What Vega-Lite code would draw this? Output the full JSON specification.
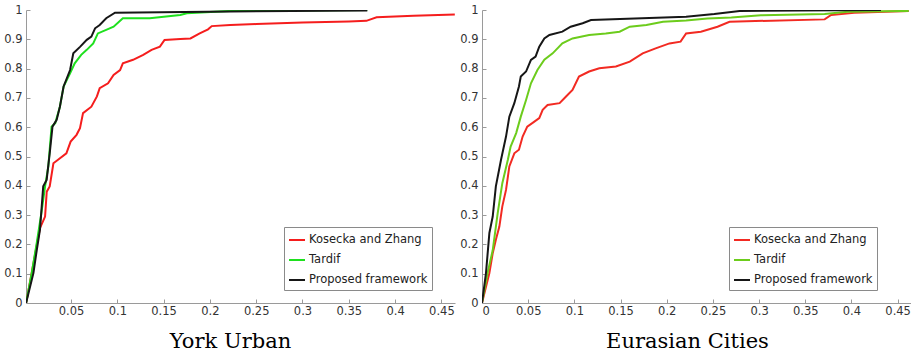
{
  "$schema": "https://vega.github.io/schema/vega-lite/v6.json",
  "padding": {"left": 3, "top": 4, "right": 0, "bottom": 0},
  "background": "white",
  "spacing": 4,
  "config": {
    "view": {"stroke": null},
    "axis": {
      "domainColor": "#9a9a9a",
      "tickColor": "#9a9a9a",
      "tickSize": -4,
      "labelColor": "#333333",
      "labelFont": "DejaVu Sans",
      "labelFontSize": 11.5,
      "grid": false,
      "titleFont": "DejaVu Serif",
      "titleFontSize": 21,
      "titleFontWeight": "normal",
      "titleColor": "#000000"
    },
    "legend": {
      "orient": "none",
      "title": null,
      "strokeColor": "#8a8a8a",
      "fillColor": "white",
      "padding": 4,
      "symbolType": "stroke",
      "symbolSize": 256,
      "symbolStrokeWidth": 2,
      "labelFont": "DejaVu Sans",
      "labelFontSize": 11.5,
      "labelColor": "#222222",
      "labelOffset": 3,
      "rowPadding": 5
    },
    "line": {"strokeWidth": 2}
  },
  "data": {
    "values": [
      {"p": "YU", "m": "Kosecka and Zhang", "x": 0.0015, "y": 0},
      {"p": "YU", "m": "Kosecka and Zhang", "x": 0.0165, "y": 0.256},
      {"p": "YU", "m": "Kosecka and Zhang", "x": 0.022, "y": 0.295},
      {"p": "YU", "m": "Kosecka and Zhang", "x": 0.0238, "y": 0.38},
      {"p": "YU", "m": "Kosecka and Zhang", "x": 0.027, "y": 0.398},
      {"p": "YU", "m": "Kosecka and Zhang", "x": 0.031, "y": 0.477},
      {"p": "YU", "m": "Kosecka and Zhang", "x": 0.036, "y": 0.489},
      {"p": "YU", "m": "Kosecka and Zhang", "x": 0.045, "y": 0.511},
      {"p": "YU", "m": "Kosecka and Zhang", "x": 0.0496, "y": 0.551},
      {"p": "YU", "m": "Kosecka and Zhang", "x": 0.056, "y": 0.574},
      {"p": "YU", "m": "Kosecka and Zhang", "x": 0.0597, "y": 0.597},
      {"p": "YU", "m": "Kosecka and Zhang", "x": 0.063, "y": 0.648},
      {"p": "YU", "m": "Kosecka and Zhang", "x": 0.072, "y": 0.67},
      {"p": "YU", "m": "Kosecka and Zhang", "x": 0.078, "y": 0.705},
      {"p": "YU", "m": "Kosecka and Zhang", "x": 0.081, "y": 0.733},
      {"p": "YU", "m": "Kosecka and Zhang", "x": 0.09, "y": 0.75},
      {"p": "YU", "m": "Kosecka and Zhang", "x": 0.096, "y": 0.778},
      {"p": "YU", "m": "Kosecka and Zhang", "x": 0.103, "y": 0.795},
      {"p": "YU", "m": "Kosecka and Zhang", "x": 0.106, "y": 0.818},
      {"p": "YU", "m": "Kosecka and Zhang", "x": 0.117, "y": 0.83},
      {"p": "YU", "m": "Kosecka and Zhang", "x": 0.128, "y": 0.847},
      {"p": "YU", "m": "Kosecka and Zhang", "x": 0.137, "y": 0.864},
      {"p": "YU", "m": "Kosecka and Zhang", "x": 0.146, "y": 0.875},
      {"p": "YU", "m": "Kosecka and Zhang", "x": 0.151, "y": 0.898},
      {"p": "YU", "m": "Kosecka and Zhang", "x": 0.168, "y": 0.901},
      {"p": "YU", "m": "Kosecka and Zhang", "x": 0.179, "y": 0.903},
      {"p": "YU", "m": "Kosecka and Zhang", "x": 0.189, "y": 0.92},
      {"p": "YU", "m": "Kosecka and Zhang", "x": 0.198, "y": 0.934},
      {"p": "YU", "m": "Kosecka and Zhang", "x": 0.202, "y": 0.945},
      {"p": "YU", "m": "Kosecka and Zhang", "x": 0.222, "y": 0.949},
      {"p": "YU", "m": "Kosecka and Zhang", "x": 0.25, "y": 0.952},
      {"p": "YU", "m": "Kosecka and Zhang", "x": 0.3, "y": 0.957},
      {"p": "YU", "m": "Kosecka and Zhang", "x": 0.35, "y": 0.961},
      {"p": "YU", "m": "Kosecka and Zhang", "x": 0.369, "y": 0.963},
      {"p": "YU", "m": "Kosecka and Zhang", "x": 0.38, "y": 0.975},
      {"p": "YU", "m": "Kosecka and Zhang", "x": 0.42, "y": 0.98},
      {"p": "YU", "m": "Kosecka and Zhang", "x": 0.4645, "y": 0.985},
      {"p": "YU", "m": "Tardif", "x": 0.0015, "y": 0},
      {"p": "YU", "m": "Tardif", "x": 0.0076, "y": 0.102},
      {"p": "YU", "m": "Tardif", "x": 0.013, "y": 0.205},
      {"p": "YU", "m": "Tardif", "x": 0.018, "y": 0.307},
      {"p": "YU", "m": "Tardif", "x": 0.022, "y": 0.398},
      {"p": "YU", "m": "Tardif", "x": 0.0255, "y": 0.466},
      {"p": "YU", "m": "Tardif", "x": 0.029, "y": 0.602},
      {"p": "YU", "m": "Tardif", "x": 0.033, "y": 0.614},
      {"p": "YU", "m": "Tardif", "x": 0.038, "y": 0.67},
      {"p": "YU", "m": "Tardif", "x": 0.042, "y": 0.739},
      {"p": "YU", "m": "Tardif", "x": 0.049, "y": 0.784},
      {"p": "YU", "m": "Tardif", "x": 0.054, "y": 0.818},
      {"p": "YU", "m": "Tardif", "x": 0.061, "y": 0.847},
      {"p": "YU", "m": "Tardif", "x": 0.067, "y": 0.864},
      {"p": "YU", "m": "Tardif", "x": 0.074, "y": 0.886},
      {"p": "YU", "m": "Tardif", "x": 0.079, "y": 0.92},
      {"p": "YU", "m": "Tardif", "x": 0.088, "y": 0.932},
      {"p": "YU", "m": "Tardif", "x": 0.096, "y": 0.943},
      {"p": "YU", "m": "Tardif", "x": 0.106, "y": 0.972},
      {"p": "YU", "m": "Tardif", "x": 0.135, "y": 0.972},
      {"p": "YU", "m": "Tardif", "x": 0.168, "y": 0.983},
      {"p": "YU", "m": "Tardif", "x": 0.175, "y": 0.989},
      {"p": "YU", "m": "Tardif", "x": 0.222, "y": 0.997},
      {"p": "YU", "m": "Tardif", "x": 0.37, "y": 1.0},
      {"p": "YU", "m": "Proposed framework", "x": 0.0015, "y": 0},
      {"p": "YU", "m": "Proposed framework", "x": 0.0094, "y": 0.102},
      {"p": "YU", "m": "Proposed framework", "x": 0.013, "y": 0.18},
      {"p": "YU", "m": "Proposed framework", "x": 0.0165, "y": 0.25},
      {"p": "YU", "m": "Proposed framework", "x": 0.02, "y": 0.398},
      {"p": "YU", "m": "Proposed framework", "x": 0.0237, "y": 0.42},
      {"p": "YU", "m": "Proposed framework", "x": 0.027, "y": 0.511},
      {"p": "YU", "m": "Proposed framework", "x": 0.03, "y": 0.602},
      {"p": "YU", "m": "Proposed framework", "x": 0.0345, "y": 0.625},
      {"p": "YU", "m": "Proposed framework", "x": 0.038, "y": 0.67},
      {"p": "YU", "m": "Proposed framework", "x": 0.042, "y": 0.739},
      {"p": "YU", "m": "Proposed framework", "x": 0.049, "y": 0.795},
      {"p": "YU", "m": "Proposed framework", "x": 0.0525, "y": 0.852},
      {"p": "YU", "m": "Proposed framework", "x": 0.06, "y": 0.875},
      {"p": "YU", "m": "Proposed framework", "x": 0.067, "y": 0.898},
      {"p": "YU", "m": "Proposed framework", "x": 0.072, "y": 0.909},
      {"p": "YU", "m": "Proposed framework", "x": 0.076, "y": 0.9375},
      {"p": "YU", "m": "Proposed framework", "x": 0.081, "y": 0.949},
      {"p": "YU", "m": "Proposed framework", "x": 0.088, "y": 0.972},
      {"p": "YU", "m": "Proposed framework", "x": 0.0975, "y": 0.991},
      {"p": "YU", "m": "Proposed framework", "x": 0.222, "y": 0.995},
      {"p": "YU", "m": "Proposed framework", "x": 0.37, "y": 0.998},
      {"p": "EC", "m": "Kosecka and Zhang", "x": 0, "y": 0},
      {"p": "EC", "m": "Kosecka and Zhang", "x": 0.008, "y": 0.102},
      {"p": "EC", "m": "Kosecka and Zhang", "x": 0.0116, "y": 0.17},
      {"p": "EC", "m": "Kosecka and Zhang", "x": 0.015, "y": 0.216},
      {"p": "EC", "m": "Kosecka and Zhang", "x": 0.0188, "y": 0.261},
      {"p": "EC", "m": "Kosecka and Zhang", "x": 0.022, "y": 0.33},
      {"p": "EC", "m": "Kosecka and Zhang", "x": 0.026, "y": 0.386},
      {"p": "EC", "m": "Kosecka and Zhang", "x": 0.0296, "y": 0.466},
      {"p": "EC", "m": "Kosecka and Zhang", "x": 0.035, "y": 0.511},
      {"p": "EC", "m": "Kosecka and Zhang", "x": 0.04, "y": 0.523},
      {"p": "EC", "m": "Kosecka and Zhang", "x": 0.044, "y": 0.568},
      {"p": "EC", "m": "Kosecka and Zhang", "x": 0.049, "y": 0.602},
      {"p": "EC", "m": "Kosecka and Zhang", "x": 0.0567, "y": 0.619},
      {"p": "EC", "m": "Kosecka and Zhang", "x": 0.062, "y": 0.631},
      {"p": "EC", "m": "Kosecka and Zhang", "x": 0.0657, "y": 0.659},
      {"p": "EC", "m": "Kosecka and Zhang", "x": 0.071, "y": 0.676},
      {"p": "EC", "m": "Kosecka and Zhang", "x": 0.084, "y": 0.682},
      {"p": "EC", "m": "Kosecka and Zhang", "x": 0.091, "y": 0.705},
      {"p": "EC", "m": "Kosecka and Zhang", "x": 0.098, "y": 0.727},
      {"p": "EC", "m": "Kosecka and Zhang", "x": 0.105, "y": 0.773},
      {"p": "EC", "m": "Kosecka and Zhang", "x": 0.116, "y": 0.79},
      {"p": "EC", "m": "Kosecka and Zhang", "x": 0.127, "y": 0.801},
      {"p": "EC", "m": "Kosecka and Zhang", "x": 0.145, "y": 0.807},
      {"p": "EC", "m": "Kosecka and Zhang", "x": 0.16, "y": 0.824},
      {"p": "EC", "m": "Kosecka and Zhang", "x": 0.174, "y": 0.852},
      {"p": "EC", "m": "Kosecka and Zhang", "x": 0.188, "y": 0.869},
      {"p": "EC", "m": "Kosecka and Zhang", "x": 0.203, "y": 0.886},
      {"p": "EC", "m": "Kosecka and Zhang", "x": 0.215, "y": 0.892},
      {"p": "EC", "m": "Kosecka and Zhang", "x": 0.221, "y": 0.92},
      {"p": "EC", "m": "Kosecka and Zhang", "x": 0.237, "y": 0.926},
      {"p": "EC", "m": "Kosecka and Zhang", "x": 0.255, "y": 0.943},
      {"p": "EC", "m": "Kosecka and Zhang", "x": 0.268, "y": 0.96},
      {"p": "EC", "m": "Kosecka and Zhang", "x": 0.371, "y": 0.968},
      {"p": "EC", "m": "Kosecka and Zhang", "x": 0.378, "y": 0.983},
      {"p": "EC", "m": "Kosecka and Zhang", "x": 0.403, "y": 0.991},
      {"p": "EC", "m": "Kosecka and Zhang", "x": 0.462, "y": 0.997},
      {"p": "EC", "m": "Tardif", "x": 0, "y": 0},
      {"p": "EC", "m": "Tardif", "x": 0.006, "y": 0.102},
      {"p": "EC", "m": "Tardif", "x": 0.0116, "y": 0.18},
      {"p": "EC", "m": "Tardif", "x": 0.017, "y": 0.307},
      {"p": "EC", "m": "Tardif", "x": 0.022, "y": 0.409},
      {"p": "EC", "m": "Tardif", "x": 0.028, "y": 0.489},
      {"p": "EC", "m": "Tardif", "x": 0.031, "y": 0.534},
      {"p": "EC", "m": "Tardif", "x": 0.037, "y": 0.58},
      {"p": "EC", "m": "Tardif", "x": 0.042, "y": 0.636},
      {"p": "EC", "m": "Tardif", "x": 0.0477, "y": 0.693},
      {"p": "EC", "m": "Tardif", "x": 0.053, "y": 0.75},
      {"p": "EC", "m": "Tardif", "x": 0.06, "y": 0.795},
      {"p": "EC", "m": "Tardif", "x": 0.0675, "y": 0.83},
      {"p": "EC", "m": "Tardif", "x": 0.0765, "y": 0.852},
      {"p": "EC", "m": "Tardif", "x": 0.087, "y": 0.886},
      {"p": "EC", "m": "Tardif", "x": 0.098, "y": 0.903},
      {"p": "EC", "m": "Tardif", "x": 0.116, "y": 0.915},
      {"p": "EC", "m": "Tardif", "x": 0.134, "y": 0.92},
      {"p": "EC", "m": "Tardif", "x": 0.149, "y": 0.926},
      {"p": "EC", "m": "Tardif", "x": 0.16, "y": 0.943},
      {"p": "EC", "m": "Tardif", "x": 0.178, "y": 0.949},
      {"p": "EC", "m": "Tardif", "x": 0.196, "y": 0.96},
      {"p": "EC", "m": "Tardif", "x": 0.221, "y": 0.964},
      {"p": "EC", "m": "Tardif", "x": 0.244, "y": 0.971},
      {"p": "EC", "m": "Tardif", "x": 0.27, "y": 0.974},
      {"p": "EC", "m": "Tardif", "x": 0.302, "y": 0.982},
      {"p": "EC", "m": "Tardif", "x": 0.371, "y": 0.986},
      {"p": "EC", "m": "Tardif", "x": 0.396, "y": 0.994},
      {"p": "EC", "m": "Tardif", "x": 0.462, "y": 0.997},
      {"p": "EC", "m": "Proposed framework", "x": 0, "y": 0},
      {"p": "EC", "m": "Proposed framework", "x": 0.0043, "y": 0.102},
      {"p": "EC", "m": "Proposed framework", "x": 0.008, "y": 0.239},
      {"p": "EC", "m": "Proposed framework", "x": 0.0116, "y": 0.295},
      {"p": "EC", "m": "Proposed framework", "x": 0.015, "y": 0.398},
      {"p": "EC", "m": "Proposed framework", "x": 0.0206, "y": 0.489},
      {"p": "EC", "m": "Proposed framework", "x": 0.026, "y": 0.568},
      {"p": "EC", "m": "Proposed framework", "x": 0.0296, "y": 0.636},
      {"p": "EC", "m": "Proposed framework", "x": 0.035, "y": 0.682},
      {"p": "EC", "m": "Proposed framework", "x": 0.04, "y": 0.739},
      {"p": "EC", "m": "Proposed framework", "x": 0.042, "y": 0.773},
      {"p": "EC", "m": "Proposed framework", "x": 0.0477, "y": 0.79},
      {"p": "EC", "m": "Proposed framework", "x": 0.053, "y": 0.83},
      {"p": "EC", "m": "Proposed framework", "x": 0.058, "y": 0.841},
      {"p": "EC", "m": "Proposed framework", "x": 0.062, "y": 0.875},
      {"p": "EC", "m": "Proposed framework", "x": 0.0675, "y": 0.903},
      {"p": "EC", "m": "Proposed framework", "x": 0.073, "y": 0.915},
      {"p": "EC", "m": "Proposed framework", "x": 0.087, "y": 0.926},
      {"p": "EC", "m": "Proposed framework", "x": 0.096, "y": 0.943},
      {"p": "EC", "m": "Proposed framework", "x": 0.109, "y": 0.955},
      {"p": "EC", "m": "Proposed framework", "x": 0.118, "y": 0.966},
      {"p": "EC", "m": "Proposed framework", "x": 0.221, "y": 0.977},
      {"p": "EC", "m": "Proposed framework", "x": 0.2515, "y": 0.986},
      {"p": "EC", "m": "Proposed framework", "x": 0.279, "y": 0.9966},
      {"p": "EC", "m": "Proposed framework", "x": 0.432, "y": 1.0}
    ]
  },
  "resolve": {"scale": {"color": "independent", "x": "independent", "y": "independent"}, "legend": {"color": "independent"}},
  "hconcat": [
    {
      "width": 429,
      "height": 293,
      "transform": [{"filter": "datum.p === 'YU'"}],
      "mark": {"type": "line", "clip": true},
      "encoding": {
        "x": {
          "field": "x", "type": "quantitative",
          "scale": {"domain": [0.0014, 0.4647], "nice": false, "zero": false},
          "axis": {"values": [0.05, 0.1, 0.15, 0.2, 0.25, 0.3, 0.35, 0.4, 0.45], "format": "~g", "labelPadding": 6, "title": "York Urban", "titleX": 204, "titleAlign": "center", "titleAnchor": null, "titleBaseline": "alphabetic", "titleY": 44}
        },
        "y": {
          "field": "y", "type": "quantitative",
          "scale": {"domain": [0, 1], "nice": false},
          "axis": {"values": [0, 0.1, 0.2, 0.3, 0.4, 0.5, 0.6, 0.7, 0.8, 0.9, 1], "format": "~g", "labelPadding": 8, "title": null}
        },
        "color": {
          "field": "m", "type": "nominal",
          "scale": {"domain": ["Kosecka and Zhang", "Tardif", "Proposed framework"], "range": ["#f51d1d", "#1ee01e", "#161616"]},
          "legend": {"legendX": 258, "legendY": 217}
        }
      }
    },
    {
      "width": 429,
      "height": 293,
      "transform": [{"filter": "datum.p === 'EC'"}],
      "mark": {"type": "line", "clip": true},
      "encoding": {
        "x": {
          "field": "x", "type": "quantitative",
          "scale": {"domain": [0, 0.4645], "nice": false, "zero": false},
          "axis": {"values": [0, 0.05, 0.1, 0.15, 0.2, 0.25, 0.3, 0.35, 0.4, 0.45], "format": "~g", "labelPadding": 6, "title": "Eurasian Cities", "titleX": 205, "titleAlign": "center", "titleAnchor": null, "titleBaseline": "alphabetic", "titleY": 44}
        },
        "y": {
          "field": "y", "type": "quantitative",
          "scale": {"domain": [0, 1], "nice": false},
          "axis": {"values": [0, 0.1, 0.2, 0.3, 0.4, 0.5, 0.6, 0.7, 0.8, 0.9, 1], "format": "~g", "labelPadding": 8, "title": null}
        },
        "color": {
          "field": "m", "type": "nominal",
          "scale": {"domain": ["Kosecka and Zhang", "Tardif", "Proposed framework"], "range": ["#f22a22", "#6ccc1c", "#161616"]},
          "legend": {"legendX": 247, "legendY": 217}
        }
      }
    }
  ]
}
